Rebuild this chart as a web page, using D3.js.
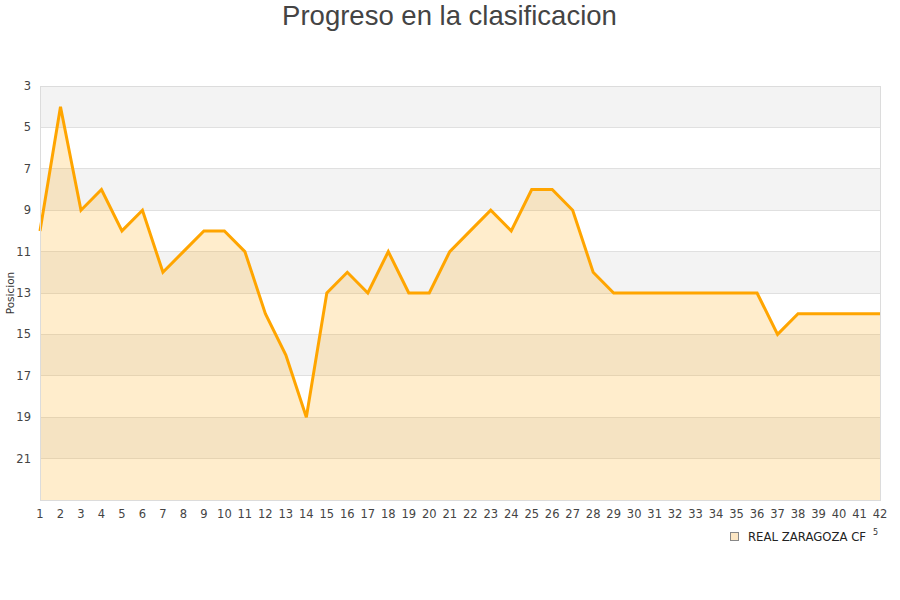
<!DOCTYPE html>
<html><head><meta charset="utf-8">
<script src="https://cdn.jsdelivr.net/npm/d3@7"></script>
<style>body{margin:0;background:#fff}</style>
</head><body>
<svg id="c" width="900" height="600"></svg>
<script>
const jornadas = d3.range(1, 43);
const posiciones = [10,4,9,8,10,9,12,11,10,10,11,14,16,19,13,12,13,11,13,13,11,10,9,10,8,8,9,12,13,13,13,13,13,13,13,13,15,14,14,14,14,14];
const yTicks = [3,5,7,9,11,13,15,17,19,21];
const bandas = [[3,5],[7,9],[11,13],[15,17],[19,21]];
const equipo = "REAL ZARAGOZA CF";
const titulo = "Progreso en la clasificacion";
const ejeY = "Posicion";

const svg = d3.select("#c");
const m = {l:40, r:880, t:86, b:500};
const x = d3.scaleLinear().domain([1,42]).range([m.l, m.r]);
const y = d3.scaleLinear().domain([3,23]).range([m.t, m.b]);

svg.append("text").attr("x",449.5).attr("y",25).attr("text-anchor","middle")
  .attr("font-family","Liberation Sans, Arial, sans-serif").attr("font-size",27.5).attr("fill","#444").text(titulo);

// bands
svg.selectAll("rect.band").data(bandas).enter().append("rect")
  .attr("x", m.l).attr("width", m.r-m.l)
  .attr("y", d=>y(d[0])).attr("height", d=>y(d[1])-y(d[0])).attr("fill","#f3f3f3");

// grid
svg.selectAll("line.grid").data(yTicks.concat([23])).enter().append("line")
  .attr("x1",m.l).attr("x2",m.r).attr("y1",d=>y(d)).attr("y2",d=>y(d))
  .attr("stroke","#e0e0e0").attr("stroke-width",1).attr("shape-rendering","crispEdges");

const data = jornadas.map((j,i)=>({j, p:posiciones[i]}));
svg.append("path").datum(data)
  .attr("d", d3.area().x(d=>x(d.j)).y0(y(23)).y1(d=>y(d.p)))
  .attr("fill","rgba(255,165,0,0.2)");
svg.append("path").datum(data)
  .attr("d", d3.line().x(d=>x(d.j)).y(d=>y(d.p)))
  .attr("fill","none").attr("stroke","#ffa500").attr("stroke-width",3).attr("stroke-linejoin","miter");

// border
svg.append("rect").attr("x",m.l).attr("y",m.t).attr("width",m.r-m.l).attr("height",m.b-m.t)
  .attr("fill","none").attr("stroke","#dcdcdc").attr("shape-rendering","crispEdges");

const font = "DejaVu Sans, Verdana, sans-serif";
// y labels
svg.selectAll("text.yt").data(yTicks).enter().append("text")
  .attr("x",31).attr("y",d=>y(d)+4).attr("text-anchor","end")
  .attr("font-family",font).attr("font-size",11.5).attr("fill","#444").text(d=>d);
// x labels
svg.selectAll("text.xt").data(jornadas).enter().append("text")
  .attr("x",d=>x(d)).attr("y",518).attr("text-anchor","middle")
  .attr("font-family",font).attr("font-size",11.5).attr("fill","#444").text(d=>d);

svg.append("text").attr("transform","translate(14,293) rotate(-90)").attr("text-anchor","middle")
  .attr("font-family",font).attr("font-size",10.5).attr("fill","#333").text(ejeY);

// legend
svg.append("rect").attr("x",730.5).attr("y",532.5).attr("width",8).attr("height",8)
  .attr("fill","#fde7c4").attr("stroke","#888").attr("stroke-width",1);
svg.append("text").attr("x",748).attr("y",540.5).attr("font-family",font).attr("font-size",11.7)
  .attr("fill","#222").text(equipo);
svg.append("text").attr("x",873).attr("y",535).attr("font-family",font).attr("font-size",8)
  .attr("fill","#333").text("5");
</script>
</body></html>
